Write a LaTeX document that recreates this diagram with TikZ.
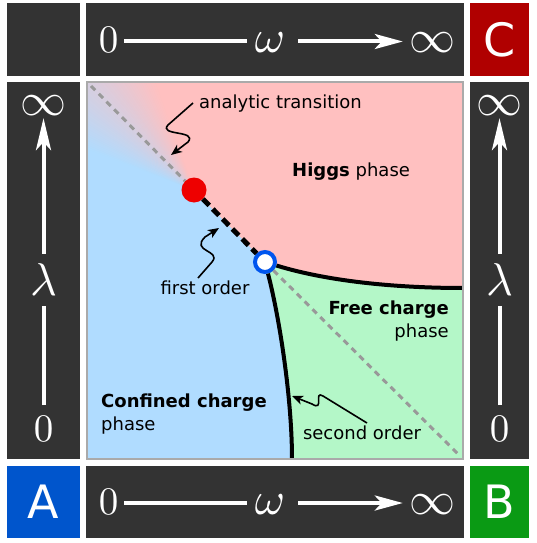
\documentclass[tikz,border=0pt]{standalone}
\usepackage[no-math]{fontspec}
\newfontfamily\dejavu{DejaVu Sans}
\usepackage{graphicx}
\usepackage{tikz}
\usetikzlibrary{arrows.meta,positioning,calc}
\usepackage{xcolor}
\definecolor{barcol}{HTML}{333333}
\definecolor{higgscol}{HTML}{FFC0C0}
\definecolor{confcol}{HTML}{B0DCFF}
\definecolor{freecol}{HTML}{B4F7C8}
\definecolor{ccol}{HTML}{B00000}
\definecolor{acol}{HTML}{0055CC}
\definecolor{bcol}{HTML}{0A9A14}
\definecolor{dotred}{HTML}{EE0000}
\definecolor{ringblue}{HTML}{0055EE}
\definecolor{bordergray}{HTML}{AAAAAA}
\newcommand{\bigsym}[1]{\scalebox{4.6}{$#1$}}
\newcommand{\bigzero}{\scalebox{3.9}{$0$}}

\begin{document}
\begin{tikzpicture}[x=1pt, y=-1pt,
    bar/.style={fill=barcol, inner sep=0pt},
    letterbox/.style={inner sep=0pt, text=white, font=\dejavu\fontsize{46}{50}\selectfont},
    axsym/.style={text=white},
    hsym/.style={text height=30pt, text depth=8pt, inner sep=6pt},
    axline/.style={draw=white, line width=4pt},
    harrow/.style={axline, -{Stealth[length=28pt,width=15pt,inset=7pt]}},
    varrow/.style={axline, -{Stealth[length=32pt,width=15pt,inset=8pt]}},
    phase/.style={inner sep=0pt, font=\dejavu\fontsize{18}{23}\selectfont},
    note/.style={inner sep=0pt, font=\dejavu\fontsize{18}{23}\selectfont},
    squig/.style={line width=1.6pt, -{Stealth[length=11pt,width=9pt,inset=3pt]}}]
    \useasboundingbox (0,0) rectangle (536,543);
    \fill[white] (0,0) rectangle (536,543);

    % 边框
    \node[bar, minimum width=73pt, minimum height=73pt] (corner) at (43.5,39.5) {};
    \node[bar, minimum width=378pt, minimum height=73pt] (topbar) at (275,39.5) {};
    \node[letterbox, fill=ccol, minimum width=59pt, minimum height=73pt] (boxC) at (499.5,39.5) {C};
    \node[bar, minimum width=73pt, minimum height=377pt] (leftbar) at (43.5,270.5) {};
    \node[bar, minimum width=59pt, minimum height=377pt] (rightbar) at (499.5,270.5) {};
    \node[letterbox, fill=acol, minimum width=73pt, minimum height=72pt] (boxA) at (43.5,502) {A};
    \node[bar, minimum width=378pt, minimum height=72pt] (botbar) at (275,502) {};
    \node[letterbox, fill=bcol, minimum width=59pt, minimum height=72pt] (boxB) at (499.5,502) {B};

    % omega 轴
    \foreach \yy/\nm in {41.5/top, 503/bot} {
        \node[axsym, hsym] (\nm0) at (108.5,\yy) {\bigzero};
        \node[axsym, hsym] (\nm w) at (270,\yy) {\bigsym{\omega}};
        \node[axsym, hsym] (\nm inf) at (432,\yy) {\bigsym{\infty}};
        \draw[axline, shorten >=2pt] (\nm0) -- (\nm w);
        \draw[harrow, shorten <=7pt] (\nm w) -- (\nm inf);
    }

    % lambda 轴
    \foreach \xx/\nm in {43.5/left, 499.5/right} {
        \node[axsym, inner sep=10.5pt] (\nm0) at (\xx,428.5) {\bigzero};
        \node[axsym, inner sep=10pt] (\nm lam) at (\xx,280) {\bigsym{\lambda}};
        \node[axsym, inner sep=2pt] (\nm inf) at (\xx,106) {\bigsym{\infty}};
        \draw[axline] (\nm0) -- (\nm lam);
        \draw[varrow] (\nm lam) -- (\nm inf);
    }

    % 相图
    \coordinate (tl) at (87,82);
    \coordinate (br) at (463,459);
    \coordinate (crit) at (194,190);
    \coordinate (tri) at (265,262);
    \coordinate (hb) at (463,288);
    \coordinate (cb) at (292,459);
    \begin{scope}
        \clip (tl) rectangle (br);
        \fill[confcol] (tl) rectangle (br);
        \fill[higgscol] (tl) -- (tri) .. controls (330,282) and (400,288) .. (hb) -- (463,82) -- cycle;
        \fill[freecol] (tri) .. controls (330,282) and (400,288) .. (hb) -- (br) -- (cb) .. controls (292,400) and (280,320) .. (tri) -- cycle;
        % 解析过渡
        \begin{scope}[shift={(crit)}]
            \foreach \a in {0,...,49} {
                \pgfmathsetmacro{\mix}{100-2*\a}
                \pgfmathsetmacro{\aa}{200+\a}
                \pgfmathsetmacro{\ab}{201.2+\a}
                \fill[confcol!\mix!higgscol] (0,0) -- (\aa:260) -- (\ab:260) -- cycle;
            }
        \end{scope}
    \end{scope}

    % 相变线
    \node[circle, fill=dotred, minimum size=25pt, inner sep=0pt] (critpt) at (crit) {};
    \node[circle, draw=ringblue, line width=4pt, fill=white, minimum size=20pt, inner sep=0pt] (tripnt) at (tri) {};
    \draw[gray!80, line width=3pt, dash pattern=on 6pt off 5pt] ($(tl)+(4,4)$) -- (critpt);
    \draw[gray!80, line width=3pt, dash pattern=on 6pt off 5pt] (tripnt) -- ($(br)+(-4,-4)$);
    \draw[line width=5pt, dash pattern=on 9pt off 5pt] (critpt) -- (tripnt);
    \draw[line width=4pt] (tripnt) .. controls (330,282) and (400,288) .. (hb);
    \draw[line width=4pt] (tripnt) .. controls (280,320) and (292,400) .. (cb);

    % 标注
    \node[note, anchor=base west] (analytic) at (199,108) {analytic transition};
    \node[phase, anchor=base west] (higgs) at (292,176) {\textbf{Higgs} phase};
    \node[phase, anchor=base east, align=right] (free) at (449,337) {\textbf{Free charge}\\phase};
    \node[phase, anchor=base west, align=left] (conf) at (101,430) {\textbf{Confined charge}\\phase};
    \node[note, anchor=base] (first) at (205,294) {first order};
    \node[note, anchor=base] (second) at (362,439) {second order};

    % 箭头
    \coordinate (a1) at (193,103);
    \coordinate (a2) at (171,155);
    \draw[squig] (a1) -- (168,125) .. controls (158,136) and (198,130) .. (188,142) -- (a2);
    \coordinate (f1) at (198,278);
    \coordinate (f2) at (219,228);
    \draw[squig] (f1) -- (212,262) .. controls (222,250) and (190,252) .. (205,237) -- (f2);
    \coordinate (s1) at (367,423);
    \coordinate (s2) at (292,396);
    \draw[squig] (s1) -- (323,396) .. controls (313,390) and (325,412) .. (312,404) -- (s2);

    \node[draw=bordergray, line width=2pt, minimum width=376pt, minimum height=377pt, inner sep=0pt] (plot) at (275,270.5) {};
\end{tikzpicture}
\end{document}
